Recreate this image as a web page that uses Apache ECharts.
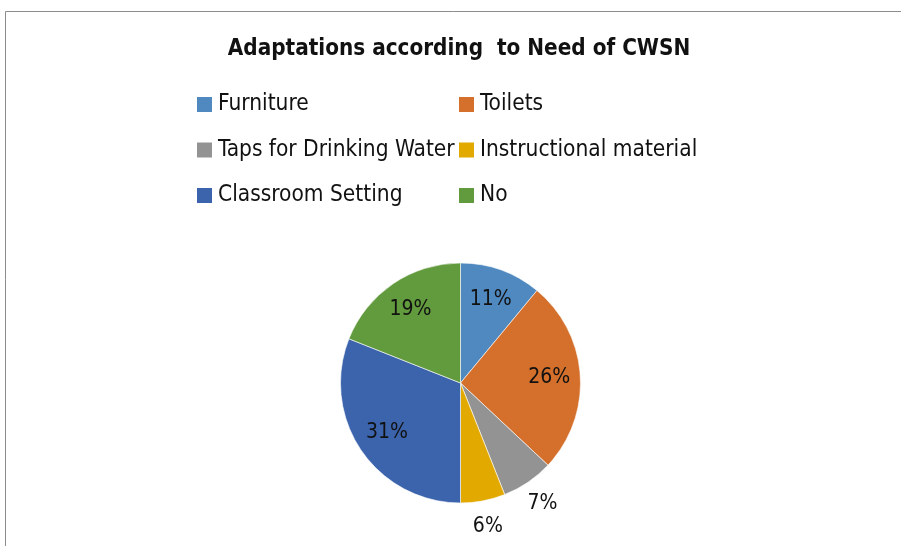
<!DOCTYPE html>
<html>
<head>
<meta charset="utf-8">
<script src="https://cdn.jsdelivr.net/npm/echarts@6/dist/echarts.min.js"></script>
<style>
  html, body { margin: 0; padding: 0; background: #fff; }
  #chart { width: 901px; height: 546px; }
</style>
</head>
<body>
<div id="chart"></div>
<script>
// Adaptations made for children with special needs (share of schools, %)
const categories = ['Furniture', 'Toilets', 'Taps for Drinking Water', 'Instructional material', 'Classroom Setting', 'No'];
const shares = [11, 26, 7, 6, 31, 19];
const sliceColors = ['#4F89BF', '#D4702C', '#939393', '#E2A900', '#3C64AD', '#629A3E'];
// slices whose percentage sits outside the pie
const labelOutside = [false, false, true, true, false, false];

const legendLeft = [categories[0], categories[2], categories[4]];
const legendRight = [categories[1], categories[3], categories[5]];

const FONT = "'Liberation Sans Narrow', 'DejaVu Sans Condensed', 'Noto Sans', sans-serif";
const CENTER = [460.5, 383];
const R = 120;

const chart = echarts.init(document.getElementById('chart'), null, { renderer: 'canvas' });

const pieData = categories.map((name, i) => ({
  name, value: shares[i], itemStyle: { color: sliceColors[i] }
}));

// transparent label rings: the label sits at the middle of each ring
const labelRing = (showOutside) => categories.map((name, i) => ({
  name, value: shares[i],
  label: { show: labelOutside[i] === showOutside }
}));

const labelSeries = (radius, showOutside) => ({
  type: 'pie',
  center: CENTER,
  radius: radius,
  startAngle: 90,
  clockwise: true,
  silent: true,
  animation: false,
  legendHoverLink: false,
  itemStyle: { color: 'rgba(0,0,0,0)', borderWidth: 0 },
  emphasis: { disabled: true },
  labelLine: { show: false },
  label: {
    position: 'inside',
    formatter: '{c}%',
    fontFamily: FONT,
    fontSize: 21,
    color: '#111'
  },
  data: labelRing(showOutside)
});

const legendBase = {
  orient: 'vertical',
  top: 93,
  padding: 0,
  itemWidth: 15,
  itemHeight: 15,
  itemGap: 22.5,
  icon: 'rect',
  selectedMode: false,
  itemStyle: { borderWidth: 0 },
  textStyle: { fontFamily: FONT, fontSize: 22.5, color: '#111', lineHeight: 21, padding: [0, 0, 0, 1] }
};

chart.setOption({
  animation: false,
  title: {
    text: 'Adaptations according  to Need of CWSN',
    left: 454,
    top: 33,
    textAlign: 'center',
    textStyle: { fontFamily: FONT, fontWeight: 'bold', fontSize: 22.3, color: '#111' }
  },
  legend: [
    Object.assign({}, legendBase, { left: 197, data: legendLeft }),
    Object.assign({}, legendBase, { left: 459, data: legendRight })
  ],
  graphic: [{
    type: 'rect',
    shape: { x: 5.5, y: 11.5, width: 1200, height: 1000 },
    style: { fill: 'none', stroke: '#8c8c8c', lineWidth: 1 },
    silent: true
  }],
  series: [
    {
      type: 'pie',
      center: CENTER,
      radius: [0, R],
      startAngle: 90,
      clockwise: true,
      animation: false,
      itemStyle: { borderColor: '#ffffff', borderWidth: 0.6 },
      label: { show: false },
      labelLine: { show: false },
      emphasis: { disabled: true },
      data: pieData
    },
    labelSeries([52, R], false),
    labelSeries([R, 166], true)
  ]
});
</script>
</body>
</html>
